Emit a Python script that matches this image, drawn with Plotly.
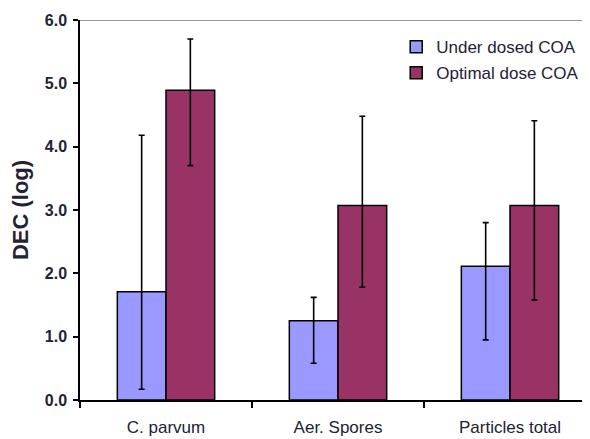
import plotly.graph_objects as go

categories = ["C. parvum", "Aer. Spores", "Particles total"]
under_vals = [1.71, 1.25, 2.11]
under_hi = [4.18, 1.62, 2.80]
under_lo = [0.17, 0.58, 0.95]
opt_vals = [4.89, 3.07, 3.07]
opt_hi = [5.70, 4.48, 4.41]
opt_lo = [3.70, 1.78, 1.58]
series_names = ["Under dosed COA", "Optimal dose COA"]
y_ticks = [0, 1, 2, 3, 4, 5, 6]

FONT = "Liberation Sans, Arial, sans-serif"

def err(vals, hi, lo):
    return dict(type="data", symmetric=False,
                array=[h - v for h, v in zip(hi, vals)],
                arrayminus=[v - l for l, v in zip(lo, vals)],
                color="black", thickness=1.6, width=3)

fig = go.Figure()
fig.add_trace(go.Bar(x=categories, y=under_vals, name=series_names[0],
                     marker=dict(color="#9999FF", line=dict(color="black", width=1.5)),
                     error_y=err(under_vals, under_hi, under_lo), legendgroup="a"))
fig.add_trace(go.Bar(x=categories, y=opt_vals, name=series_names[1],
                     marker=dict(color="#993366", line=dict(color="black", width=1.5)),
                     error_y=err(opt_vals, opt_hi, opt_lo), legendgroup="b"))

fig.update_layout(
    width=582, height=431,
    margin=dict(l=72, r=0, t=12, b=39, autoexpand=False),
    plot_bgcolor="white", paper_bgcolor="white",
    barmode="group", bargap=0.434, bargroupgap=0,
    font=dict(family=FONT, color="#222233"),
    legend=dict(x=0.62, y=0.976, xanchor="left", yanchor="top",
                font=dict(size=17, family=FONT), traceorder="grouped", tracegroupgap=1,
                itemwidth=30, bgcolor="rgba(0,0,0,0)"),
    showlegend=True,
    shapes=[dict(type="line", xref="paper", yref="y", x0=0, x1=1, y0=6, y1=6,
                 line=dict(color="#999999", width=2))],
)
fig.update_xaxes(range=[-0.5, 2.465], showline=True, linecolor="black", linewidth=1.5,
                 ticks="outside", tickson="boundaries", ticklen=6, tickcolor="black",
                 tickwidth=1.5, tickfont=dict(size=17, family=FONT), showgrid=False,
                 ticklabelstandoff=11)
fig.update_yaxes(range=[0, 6], tickvals=y_ticks, tickformat=".1f", showline=True,
                 linecolor="black", linewidth=1.5, ticks="outside", ticklen=5,
                 tickcolor="black", tickwidth=1.5, showgrid=False, zeroline=False,
                 tickfont=dict(size=16, family=FONT, weight="bold"), ticklabelstandoff=3,
                 title=dict(text="DEC (log)", font=dict(size=22, family=FONT, weight="bold"),
                            standoff=10))
fig.write_html("out.html")
